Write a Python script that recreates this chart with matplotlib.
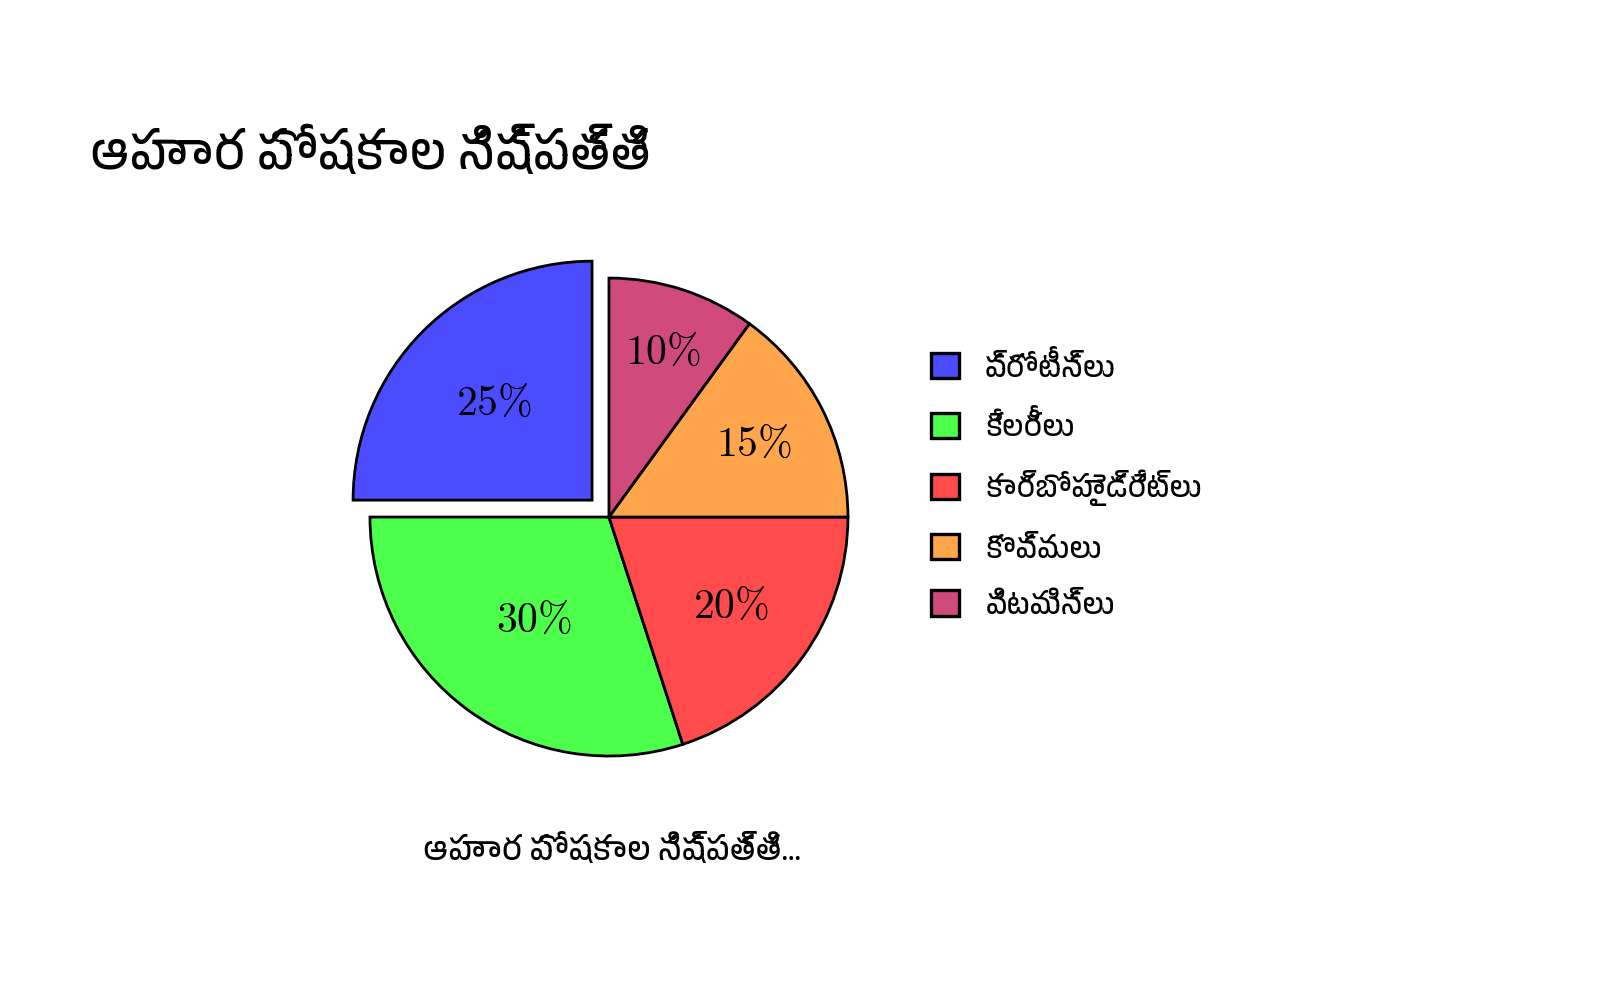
import numpy as np
import matplotlib
matplotlib.use("Agg")
import matplotlib.pyplot as plt
from matplotlib import font_manager

# data
labels = ["ప్రోటీన్లు", "కేలరీలు", "కార్బోహైడ్రేట్లు", "కొవ్వులు", "విటమిన్లు"]
shares = [25, 30, 20, 15, 10]
colors = ["#4B4BFF", "#4BFF4B", "#FF4B4B", "#FFA54B", "#D04B7B"]
explode = [0.1, 0, 0, 0, 0]
title = "ఆహార పోషకాల నిష్పత్తి"
caption = "ఆహార పోషకాల నిష్పత్తి..."

# look for a font that can draw Telugu
telugu = [f.name for f in font_manager.fontManager.ttflist
          if "telugu" in f.name.lower() or f.name in ("Pothana2000", "Vemana2000", "Gidugu", "Gurajada", "Ramaraja", "Mallanna", "Mandali", "NTR", "Suranna", "Ponnala")]
families = sorted(set(telugu)) + ["Noto Sans", "DejaVu Sans"]
plt.rcParams["font.family"] = families
plt.rcParams["mathtext.fontset"] = "cm"

fig = plt.figure(figsize=(16, 9.95), dpi=100)

# pie axes: centre at (609, 518) px, radius 239 px
ax = fig.add_axes([0.1939, 0.1791, 0.3734, 0.6005])
wedges, texts, autotexts = ax.pie(
    shares, colors=colors, explode=explode, startangle=90, counterclock=True,
    autopct=lambda p: rf"${p:.0f}\%$",
    wedgeprops=dict(edgecolor="black", linewidth=2.0),
    textprops=dict(fontsize=30, color="black"),
)

# label distance from the slice centre (fraction of radius)
label_radius = [0.58, 0.53, 0.63, 0.68, 0.73]
for w, t, r in zip(wedges, autotexts, label_radius):
    mid = np.deg2rad((w.theta1 + w.theta2) / 2)
    cx, cy = w.center
    t.set_position((cx + r * np.cos(mid), cy + r * np.sin(mid)))
    t.set_ha("center")
    t.set_va("center")

ax.set_xlim(-1.25, 1.25)
ax.set_ylim(-1.25, 1.25)
ax.set_aspect("equal")
ax.axis("off")

leg = fig.legend(wedges, labels, loc="upper left", bbox_to_anchor=(0.5655, 0.674),
                 frameon=False, fontsize=21, handlelength=0.96, handleheight=0.96,
                 handletextpad=0.9, labelspacing=0.98)
for h in leg.legend_handles:
    h.set_linewidth(2.4)

fig.text(0.056, 0.846, title, fontsize=36, ha="left", va="center")
fig.text(0.3825, 0.147, caption, fontsize=23, ha="center", va="center")

fig.savefig("out.png", dpi=100)
